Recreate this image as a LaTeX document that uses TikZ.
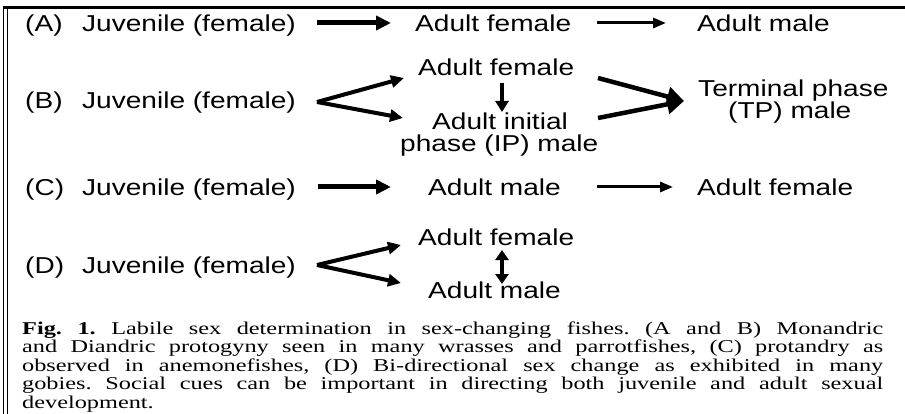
\documentclass[tikz,border=0pt]{standalone}
\usepackage{fontspec}
\setmainfont{Liberation Sans}[FakeStretch=1.22]
\newfontfamily\capfont{Liberation Serif}
\usetikzlibrary{arrows.meta}
\newcommand{\capline}[1]{\scalebox{1.35}[1]{\makebox[637.8pt][s]{#1}}}
\tikzset{
  lbl/.style={anchor=base west, inner sep=0pt, font=\fontsize{23}{27}\selectfont},
  caplbl/.style={anchor=base west, inner sep=0pt, font=\capfont\fontsize{18}{18.5}\selectfont\frenchspacing},
  thickarr/.style={line width=5pt, -{Triangle[length=15pt,width=14pt]}},
  thinarr/.style={line width=3pt, -{Triangle[length=13pt,width=10pt]}},
  forkarr/.style={line width=4pt, -{Triangle[length=13pt,width=12pt]}},
  vertarr/.style={line width=4pt, -{Triangle[length=11pt,width=13pt]}},
  bothvert/.style={line width=4pt, {Triangle[length=10pt,width=13pt]}-{Triangle[length=10pt,width=13pt]}},
  convarr/.style={line width=4.5pt, -{Triangle[length=17pt,width=19pt]}},
  rule/.style={line width=1.5pt}
}
\begin{document}
\begin{tikzpicture}[x=1pt,y=-1pt]
\useasboundingbox[fill=white] (0,0) rectangle (905,414);
% frame
\draw[rule] (3.5,6) -- (3.5,414);
\draw[rule] (7.5,6) -- (7.5,414);
\draw[line width=3pt] (3,7.5) -- (905,7.5);

% Row A
\node[lbl] (labA) at (25,31.5) {(A)};
\node[lbl] (juvA) at (82,31.5) {Juvenile (female)};
\node[lbl] (afA) at (415,31.5) {Adult female};
\node[lbl] (amA) at (697,31.5) {Adult male};
\coordinate (a1s) at (317,23); \coordinate (a1e) at (391,23);
\coordinate (a2s) at (597,23); \coordinate (a2e) at (666,23);
\draw[thickarr] (a1s) -- (a1e);
\draw[thinarr] (a2s) -- (a2e);

% Row B
\node[lbl] (labB) at (25,108.5) {(B)};
\node[lbl] (juvB) at (82,108.5) {Juvenile (female)};
\node[lbl] (afB) at (418,75.5) {Adult female};
\node[lbl] (ipB1) at (432,129.5) {Adult initial};
\node[lbl] (ipB2) at (400,151.5) {phase (IP) male};
\node[lbl] (tpB1) at (698,96.5) {Terminal phase};
\node[lbl] (tpB2) at (728,118.5) {(TP) male};
\coordinate (bv) at (317,102);
\coordinate (bu) at (404,78); \coordinate (bl) at (403,118);
\draw[forkarr] (bv) -- (bu);
\draw[forkarr] (bv) -- (bl);
\coordinate (bds) at (502,83); \coordinate (bde) at (502,112);
\draw[vertarr] (bds) -- (bde);
\coordinate (cu) at (598,78); \coordinate (cl) at (598,118); \coordinate (ct) at (684,101);
\draw[convarr] (cu) -- (ct);
\draw[convarr] (cl) -- (ct);

% Row C
\node[lbl] (labC) at (25,195.5) {(C)};
\node[lbl] (juvC) at (82,195.5) {Juvenile (female)};
\node[lbl] (amC) at (428,195.5) {Adult male};
\node[lbl] (afC) at (697,195.5) {Adult female};
\coordinate (c1s) at (318,187); \coordinate (c1e) at (391,187);
\coordinate (c2s) at (597,187); \coordinate (c2e) at (673,187);
\draw[thickarr] (c1s) -- (c1e);
\draw[thinarr] (c2s) -- (c2e);

% Row D
\node[lbl] (labD) at (25,273.5) {(D)};
\node[lbl] (juvD) at (82,273.5) {Juvenile (female)};
\node[lbl] (afD) at (418,245.5) {Adult female};
\node[lbl] (amD) at (428,298.5) {Adult male};
\coordinate (dv) at (317,265);
\coordinate (du) at (401,245); \coordinate (dl) at (401,283);
\draw[forkarr] (dv) -- (du);
\draw[forkarr] (dv) -- (dl);
\coordinate (dds) at (502,250); \coordinate (dde) at (502,284);
\draw[bothvert] (dds) -- (dde);

% Caption
\node[caplbl] (cap1) at (22,334) {\capline{\textbf{Fig. 1.} Labile sex determination in sex-changing fishes. (A and B) Monandric}};
\node[caplbl] (cap2) at (22,352.5) {\capline{and Diandric protogyny seen in many wrasses and parrotfishes, (C) protandry as}};
\node[caplbl] (cap3) at (22,371) {\capline{observed in anemonefishes, (D) Bi-directional sex change as exhibited in many}};
\node[caplbl] (cap4) at (22,389.5) {\capline{gobies. Social cues can be important in directing both juvenile and adult sexual}};
\node[caplbl] (cap5) at (22,408) {\scalebox{1.35}[1]{development.}};
\end{tikzpicture}
\end{document}
